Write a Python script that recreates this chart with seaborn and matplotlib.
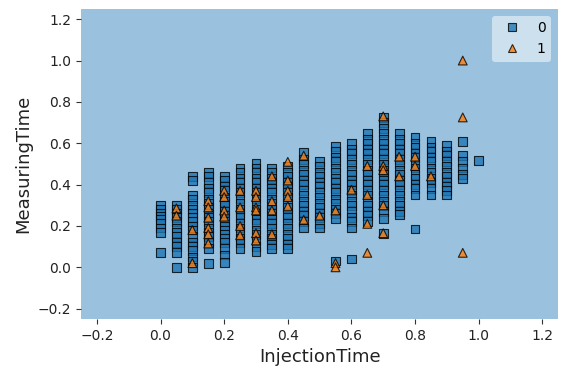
import matplotlib
matplotlib.use("Agg")
import matplotlib.pyplot as plt
from matplotlib.lines import Line2D
import seaborn as sns
import pandas as pd

# InjectionTime columns
columns = [0.00, 0.05, 0.10, 0.15, 0.20, 0.25, 0.30, 0.35, 0.40, 0.45, 0.50,
           0.55, 0.60, 0.65, 0.70, 0.75, 0.80, 0.85, 0.90, 0.95, 1.00]

# MeasuringTime values of class 0 per column
measuring_class0 = [
    [0.30, 0.28, 0.26, 0.245, 0.23, 0.21, 0.19, 0.17, 0.07],
    [0.30, 0.28, 0.26, 0.24, 0.22, 0.19, 0.17, 0.15, 0.12, 0.10, 0.07, 0.0],
    [0.44, 0.42, 0.35, 0.33, 0.30, 0.28, 0.26, 0.24, 0.22, 0.20, 0.18, 0.15, 0.12, 0.10, 0.08, 0.05, 0.03, 0.0],
    [0.46, 0.44, 0.41, 0.38, 0.36, 0.33, 0.31, 0.29, 0.26, 0.24, 0.22, 0.19, 0.17, 0.15, 0.12, 0.09, 0.02],
    [0.44, 0.42, 0.39, 0.37, 0.34, 0.32, 0.30, 0.27, 0.25, 0.22, 0.20, 0.18, 0.16, 0.14, 0.12, 0.09, 0.06, 0.025],
    [0.48, 0.46, 0.43, 0.41, 0.38, 0.36, 0.33, 0.31, 0.28, 0.26, 0.24, 0.21, 0.19, 0.17, 0.14, 0.12, 0.09],
    [0.505, 0.48, 0.46, 0.43, 0.41, 0.38, 0.36, 0.33, 0.31, 0.28, 0.26, 0.23, 0.21, 0.18, 0.16, 0.13, 0.10, 0.075],
    [0.48, 0.46, 0.43, 0.41, 0.38, 0.36, 0.33, 0.31, 0.28, 0.26, 0.23, 0.21, 0.19, 0.16, 0.14, 0.11, 0.09],
    [0.49, 0.46, 0.44, 0.41, 0.39, 0.36, 0.34, 0.31, 0.29, 0.26, 0.24, 0.21, 0.19, 0.16, 0.14, 0.11, 0.09],
    [0.555, 0.52, 0.50, 0.47, 0.45, 0.42, 0.40, 0.37, 0.35, 0.32, 0.30, 0.27, 0.25, 0.22, 0.19],
    [0.51, 0.49, 0.46, 0.44, 0.41, 0.39, 0.36, 0.34, 0.31, 0.29, 0.26, 0.24, 0.21, 0.19],
    [0.585, 0.56, 0.53, 0.51, 0.48, 0.46, 0.43, 0.41, 0.38, 0.36, 0.33, 0.31, 0.28, 0.26, 0.235, 0.03],
    [0.60, 0.57, 0.55, 0.52, 0.50, 0.47, 0.45, 0.42, 0.40, 0.37, 0.35, 0.32, 0.30, 0.27, 0.24, 0.22, 0.19, 0.04],
    [0.65, 0.62, 0.60, 0.57, 0.55, 0.52, 0.50, 0.47, 0.45, 0.42, 0.40, 0.37, 0.35, 0.32, 0.30, 0.27, 0.25, 0.22],
    [0.725, 0.70, 0.67, 0.65, 0.62, 0.60, 0.57, 0.55, 0.52, 0.50, 0.47, 0.45, 0.42, 0.40, 0.37, 0.35, 0.32, 0.30, 0.27, 0.235, 0.165],
    [0.65, 0.62, 0.60, 0.57, 0.55, 0.52, 0.50, 0.47, 0.45, 0.42, 0.40, 0.37, 0.35, 0.32, 0.30, 0.27, 0.255],
    [0.63, 0.60, 0.58, 0.55, 0.53, 0.50, 0.48, 0.45, 0.43, 0.40, 0.38, 0.35, 0.185],
    [0.61, 0.58, 0.56, 0.53, 0.51, 0.48, 0.46, 0.43, 0.41, 0.38, 0.35],
    [0.59, 0.56, 0.54, 0.51, 0.49, 0.46, 0.44, 0.41, 0.39, 0.37, 0.35],
    [0.61, 0.54, 0.51, 0.48, 0.45, 0.43],
    [0.515],
]

# MeasuringTime values of class 1 per column
measuring_class1 = [
    [],
    [0.285, 0.25],
    [0.18, 0.02],
    [0.32, 0.29, 0.24, 0.19, 0.16, 0.115],
    [0.37, 0.34, 0.275, 0.245],
    [0.37, 0.29, 0.20, 0.155],
    [0.37, 0.34, 0.29, 0.275, 0.165, 0.13],
    [0.44, 0.32, 0.275, 0.16],
    [0.51, 0.42, 0.37, 0.34, 0.295],
    [0.54, 0.23],
    [0.25],
    [0.275, 0.02, 0.0],
    [0.375],
    [0.49, 0.35, 0.21, 0.07],
    [0.73, 0.49, 0.47, 0.30, 0.165],
    [0.535, 0.44],
    [0.535, 0.49],
    [0.44],
    [],
    [1.0, 0.725, 0.07],
    [],
]

class_labels = [0, 1]
class_colors = ["#1f77b4", "#ff7f0e"]
class_markers = ["s", "^"]

rows = []
for lab, data in zip(class_labels, [measuring_class0, measuring_class1]):
    for xv, ys in zip(columns, data):
        for yv in ys:
            rows.append({"InjectionTime": xv, "MeasuringTime": yv, "label": lab})
df = pd.DataFrame(rows)

fig = plt.figure(figsize=(5.61, 3.69), dpi=100)
ax = fig.add_axes([0.1444, 0.1355, 0.8506, 0.8405])

# decision region: whole plane predicted as class 0
ax.axvspan(-0.25, 1.25, color=class_colors[0], alpha=0.45, lw=0, zorder=0)

sns.scatterplot(
    data=df, x="InjectionTime", y="MeasuringTime",
    hue="label", style="label",
    palette=dict(zip(class_labels, class_colors)),
    markers=dict(zip(class_labels, class_markers)),
    s=40, edgecolor="black", linewidth=0.8, alpha=0.8,
    legend=False, ax=ax, zorder=2,
)

ax.set_xlim(-0.25, 1.25)
ax.set_ylim(-0.25, 1.25)
ax.set_xticks([-0.2, 0.0, 0.2, 0.4, 0.6, 0.8, 1.0, 1.2])
ax.set_yticks([-0.2, 0.0, 0.2, 0.4, 0.6, 0.8, 1.0, 1.2])
ax.tick_params(labelsize=10, colors="#333333", labelcolor="#222222")
for sp in ax.spines.values():
    sp.set_visible(False)
ax.set_xlabel("InjectionTime", fontsize=13, color="#222222")
ax.set_ylabel("MeasuringTime", fontsize=13, color="#222222")

handles = [
    Line2D([], [], marker=m, linestyle="none", markerfacecolor=c,
           markeredgecolor="black", markersize=6.3, markeredgewidth=0.8, alpha=0.8)
    for m, c in zip(class_markers, class_colors)
]
ax.legend(handles, [str(l) for l in class_labels], loc="upper right",
          fontsize=10, framealpha=0.5, edgecolor="none")

fig.savefig("out.png", dpi=100)
